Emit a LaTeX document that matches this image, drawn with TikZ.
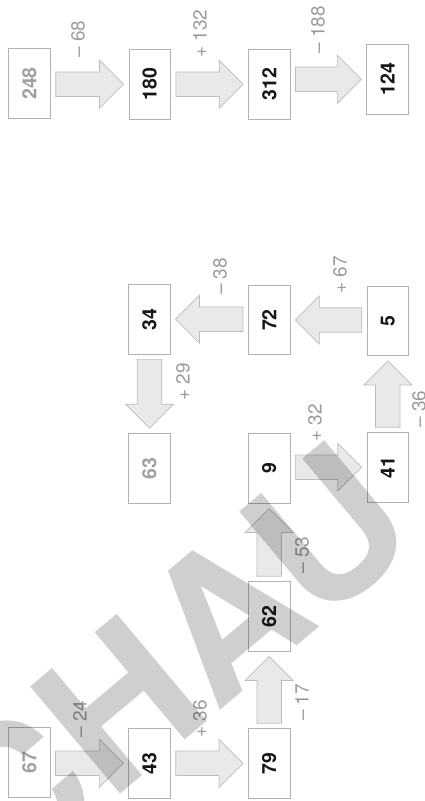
\documentclass[tikz,border=0pt]{standalone}
\usepackage{fontspec}
\usepackage{graphicx}
\setmainfont{TeX Gyre Heros}
\usetikzlibrary{calc}
\definecolor{boxline}{RGB}{178,178,178}
\definecolor{arrfill}{RGB}{233,233,235}
\definecolor{arrline}{RGB}{188,188,188}
\definecolor{labgray}{RGB}{155,155,155}
\definecolor{numgray}{RGB}{160,160,160}
\definecolor{numblack}{RGB}{22,22,22}
\newcommand\rtxt[1]{\rotatebox{90}{#1}}
\tikzset{
  numbox/.style={draw=boxline, line width=0.8pt, fill=white,
    minimum width=41.5pt, minimum height=69.5pt, inner sep=0pt,
    font=\fontsize{19.5}{20}\selectfont\bfseries, text=numblack},
  greynum/.style={numbox, text=numgray},
  oplabel/.style={font=\fontsize{19}{20}\selectfont, text=labgray,
    inner sep=0pt, rotate=90},
  wm/.style={font=\fontsize{192}{192}\selectfont\bfseries, text=black,
    text opacity=0.19, inner sep=0pt},
  barrow/.style={draw=arrline, fill=arrfill, line width=0.7pt, line join=miter,
    to path={
      ($(\tikztostart)!5pt!(\tikztotarget)$) coordinate (bA)
      ($(\tikztotarget)!5pt!(\tikztostart)$) coordinate (bB)
      ($(bB)!24pt!(bA)$) coordinate (bH)
      ($(bA)!12.25pt!90:(bB)$) -- ($(bH)!12.25pt!-90:(bA)$)
      -- ($(bH)!24pt!-90:(bA)$) -- (bB) -- ($(bH)!24pt!90:(bA)$)
      -- ($(bH)!12.25pt!90:(bA)$) -- ($(bA)!12.25pt!-90:(bB)$) -- cycle
    }}
}
\begin{document}
\begin{tikzpicture}[x=1pt,y=-1pt]
\fill[white] (0,0) rectangle (425,801);
\useasboundingbox (0,0) rectangle (425,801);

% top row
\node[greynum] (n248) at (29.5,83.5) {\rtxt{248}};
\node[numbox] (n180) at (149.7,84.2) {\rtxt{180}};
\node[numbox] (n312) at (269.3,84.2) {\rtxt{312}};
\node[numbox] (n124) at (387.5,79.3) {\rtxt{124}};

% middle
\node[numbox] (n34) at (149.3,319.2) {\rtxt{34}};
\node[numbox] (n72) at (269.2,320) {\rtxt{72}};
\node[numbox] (n5) at (387.8,320.8) {\rtxt{5}};
\node[greynum] (n63) at (149.5,468.3) {\rtxt{63}};
\node[numbox] (n9) at (269.2,468.3) {\rtxt{9}};
\node[numbox] (n41) at (387.8,467.3) {\rtxt{41}};
\node[numbox] (n62) at (269.2,616.3) {\rtxt{62}};
\node[greynum] (n67) at (29.3,762.3) {\rtxt{67}};
\node[numbox] (n43) at (149.5,763.3) {\rtxt{43}};
\node[numbox] (n79) at (269.2,763.3) {\rtxt{79}};

% arrows
\path[barrow] (n248.east |- n180.west) to (n180.west);
\path[barrow] (n180.east |- n312.west) to (n312.west);
\path[barrow] (n312.east |- n124.west) to (n124.west);
\path[barrow] (n5.west |- n72.east) to (n72.east);
\path[barrow] (n72.west |- n34.east) to (n34.east);
\path[barrow] (n34.south -| n63.north) to (n63.north);
\path[barrow] (n67.east |- n43.west) to (n43.west);
\path[barrow] (n43.east |- n79.west) to (n79.west);
\path[barrow] (n79.north -| n62.south) to (n62.south);
\path[barrow] (n62.north -| n9.south) to (n9.south);
\path[barrow] (n9.east |- n41.west) to (n41.west);
\path[barrow] (n41.north -| n5.south) to (n5.south);

% labels
\node[oplabel] (l68) at (78,39) {– 68};
\node[oplabel] (l132) at (200,33.5) {+ 132};
\node[oplabel] (l188) at (318,30) {– 188};
\node[oplabel] (l38) at (220,276.5) {– 38};
\node[oplabel] (l67) at (340,275) {+ 67};
\node[oplabel] (l29) at (183,382) {+ 29};
\node[oplabel] (l32) at (315,423) {+ 32};
\node[oplabel] (l36b) at (419,409) {– 36};
\node[oplabel] (l53) at (302,555) {– 53};
\node[oplabel] (l24) at (80,719) {– 24};
\node[oplabel] (l36) at (200,719) {+ 36};
\node[oplabel] (l17) at (302,702.5) {– 17};

% watermark
\begin{scope}
\clip (0,0) rectangle (425,801);
\node[wm, anchor=base east, rotate=40] (wmark) at (425,539) {VORSCHAU};
\end{scope}
\end{tikzpicture}
\end{document}
